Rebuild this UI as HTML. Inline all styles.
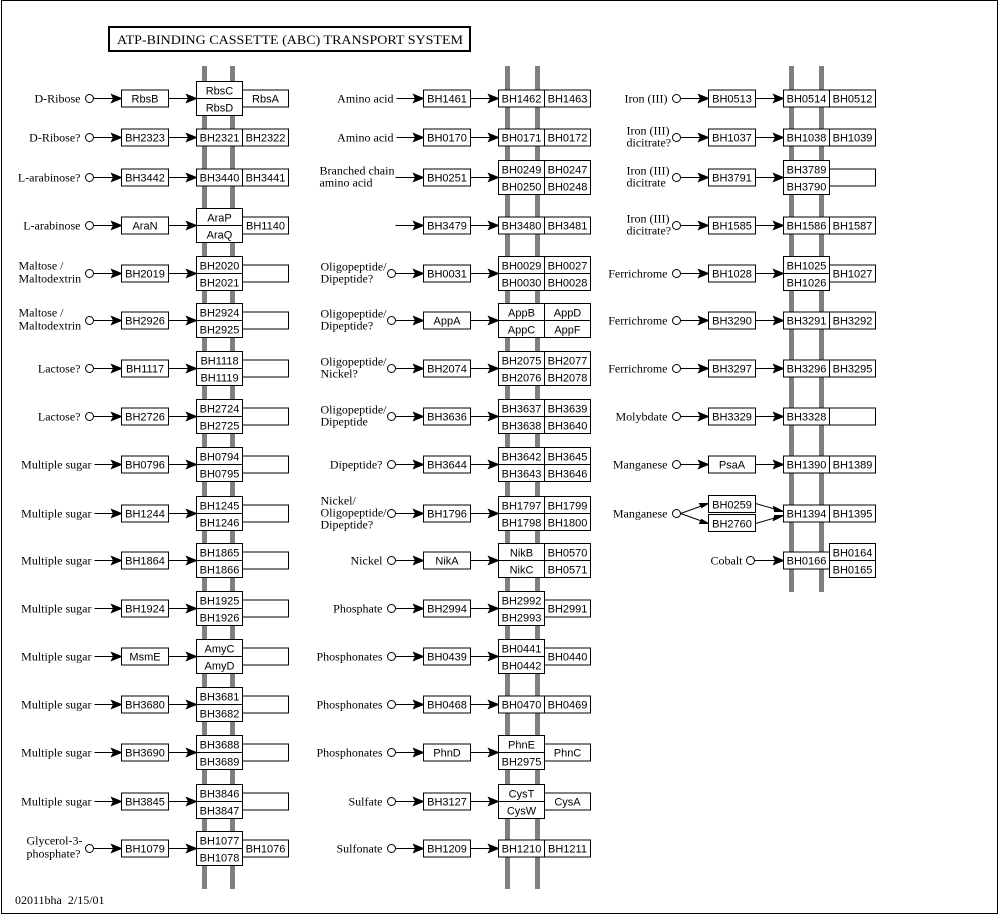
<!DOCTYPE html>
<html><head><meta charset="utf-8"><style>
html,body{margin:0;padding:0;background:#fff}
svg{display:block}
rect{fill:#fff;stroke:#000;stroke-width:1}
text{font-family:"Liberation Serif",serif;font-size:12px;fill:#000}
.b text,text.b{font-family:"Liberation Sans",sans-serif;font-size:11px;text-anchor:middle}
.r{text-anchor:end}
circle{fill:#fff;stroke:#000;stroke-width:1}
path,line{stroke:#000;stroke-width:1;fill:none}
.bar{stroke:#808080;stroke-width:5}
</style></head><body>
<svg width="999" height="916" viewBox="0 0 999 916" xmlns="http://www.w3.org/2000/svg">
<defs><polygon id="a" points="0,0 -10,-4 -8,0 -10,4" style="fill:#000;stroke:#000;stroke-width:1"/></defs>
<rect x="1.5" y="0.5" width="996" height="913" style="fill:#fff;stroke:#000"/>
<rect x="109" y="27" width="361" height="24" style="stroke-width:2"/>
<text x="117" y="44" style="font-size:13px" textLength="346" lengthAdjust="spacingAndGlyphs">ATP-BINDING CASSETTE (ABC) TRANSPORT SYSTEM</text>
<text x="15" y="904">02011bha&#160;&#160;2/15/01</text>
<line class="bar" x1="204.5" y1="66" x2="204.5" y2="889"/><line class="bar" x1="232.5" y1="66" x2="232.5" y2="889"/>
<line class="bar" x1="507.5" y1="66" x2="507.5" y2="889"/><line class="bar" x1="537.5" y1="66" x2="537.5" y2="889"/>
<line class="bar" x1="791.5" y1="66" x2="791.5" y2="592"/><line class="bar" x1="821.5" y1="66" x2="821.5" y2="592"/>

<!-- COLUMN 1 -->
<g transform="translate(0.5,98.5)"><text class="r" x="80" y="4">D-Ribose</text><circle cx="89" r="4"/><path d="M93 0H121M168 0H196"/><use href="#a" x="121"/><use href="#a" x="196"/>
<g class="b"><rect x="121" y="-8.5" width="47" height="17"/><text x="144.5" y="4">RbsB</text><rect x="196" y="-17" width="46" height="17"/><rect x="196" y="0" width="46" height="17"/><rect x="242" y="-8.5" width="46" height="17"/><text x="219" y="-4">RbsC</text><text x="219" y="13">RbsD</text><text x="265" y="4">RbsA</text></g></g>
<g transform="translate(0.5,137.5)"><text class="r" x="80" y="4">D-Ribose?</text><circle cx="89" r="4"/><path d="M93 0H121M168 0H196"/><use href="#a" x="121"/><use href="#a" x="196"/>
<g class="b"><rect x="121" y="-8.5" width="47" height="17"/><text x="144.5" y="4">BH2323</text><rect x="196" y="-8.5" width="46" height="17"/><rect x="242" y="-8.5" width="46" height="17"/><text x="219" y="4">BH2321</text><text x="265" y="4">BH2322</text></g></g>
<g transform="translate(0.5,177.5)"><text class="r" x="80" y="4">L-arabinose?</text><circle cx="89" r="4"/><path d="M93 0H121M168 0H196"/><use href="#a" x="121"/><use href="#a" x="196"/>
<g class="b"><rect x="121" y="-8.5" width="47" height="17"/><text x="144.5" y="4">BH3442</text><rect x="196" y="-8.5" width="46" height="17"/><rect x="242" y="-8.5" width="46" height="17"/><text x="219" y="4">BH3440</text><text x="265" y="4">BH3441</text></g></g>
<g transform="translate(0.5,225.5)"><text class="r" x="80" y="4">L-arabinose</text><circle cx="89" r="4"/><path d="M93 0H121M168 0H196"/><use href="#a" x="121"/><use href="#a" x="196"/>
<g class="b"><rect x="121" y="-8.5" width="47" height="17"/><text x="144.5" y="4">AraN</text><rect x="196" y="-17" width="46" height="17"/><rect x="196" y="0" width="46" height="17"/><rect x="242" y="-8.5" width="46" height="17"/><text x="219" y="-4">AraP</text><text x="219" y="13">AraQ</text><text x="265" y="4">BH1140</text></g></g>
<g transform="translate(0.5,273.5)"><text x="18" y="-4">Maltose /</text><text x="18" y="9">Maltodextrin</text><circle cx="89" r="4"/><path d="M93 0H121M168 0H196"/><use href="#a" x="121"/><use href="#a" x="196"/>
<g class="b"><rect x="121" y="-8.5" width="47" height="17"/><text x="144.5" y="4">BH2019</text><rect x="196" y="-17" width="46" height="17"/><rect x="196" y="0" width="46" height="17"/><rect x="242" y="-8.5" width="46" height="17"/><text x="219" y="-4">BH2020</text><text x="219" y="13">BH2021</text></g></g>
<g transform="translate(0.5,320.5)"><text x="18" y="-4">Maltose /</text><text x="18" y="9">Maltodextrin</text><circle cx="89" r="4"/><path d="M93 0H121M168 0H196"/><use href="#a" x="121"/><use href="#a" x="196"/>
<g class="b"><rect x="121" y="-8.5" width="47" height="17"/><text x="144.5" y="4">BH2926</text><rect x="196" y="-17" width="46" height="17"/><rect x="196" y="0" width="46" height="17"/><rect x="242" y="-8.5" width="46" height="17"/><text x="219" y="-4">BH2924</text><text x="219" y="13">BH2925</text></g></g>
<g transform="translate(0.5,368.5)"><text class="r" x="80" y="4">Lactose?</text><circle cx="89" r="4"/><path d="M93 0H121M168 0H196"/><use href="#a" x="121"/><use href="#a" x="196"/>
<g class="b"><rect x="121" y="-8.5" width="47" height="17"/><text x="144.5" y="4">BH1117</text><rect x="196" y="-17" width="46" height="17"/><rect x="196" y="0" width="46" height="17"/><rect x="242" y="-8.5" width="46" height="17"/><text x="219" y="-4">BH1118</text><text x="219" y="13">BH1119</text></g></g>
<g transform="translate(0.5,416.5)"><text class="r" x="80" y="4">Lactose?</text><circle cx="89" r="4"/><path d="M93 0H121M168 0H196"/><use href="#a" x="121"/><use href="#a" x="196"/>
<g class="b"><rect x="121" y="-8.5" width="47" height="17"/><text x="144.5" y="4">BH2726</text><rect x="196" y="-17" width="46" height="17"/><rect x="196" y="0" width="46" height="17"/><rect x="242" y="-8.5" width="46" height="17"/><text x="219" y="-4">BH2724</text><text x="219" y="13">BH2725</text></g></g>
<g transform="translate(0.5,464.5)"><text class="r" x="91" y="4">Multiple sugar</text><path d="M94 0H121M168 0H196"/><use href="#a" x="121"/><use href="#a" x="196"/>
<g class="b"><rect x="121" y="-8.5" width="47" height="17"/><text x="144.5" y="4">BH0796</text><rect x="196" y="-17" width="46" height="17"/><rect x="196" y="0" width="46" height="17"/><rect x="242" y="-8.5" width="46" height="17"/><text x="219" y="-4">BH0794</text><text x="219" y="13">BH0795</text></g></g>
<g transform="translate(0.5,513.5)"><text class="r" x="91" y="4">Multiple sugar</text><path d="M94 0H121M168 0H196"/><use href="#a" x="121"/><use href="#a" x="196"/>
<g class="b"><rect x="121" y="-8.5" width="47" height="17"/><text x="144.5" y="4">BH1244</text><rect x="196" y="-17" width="46" height="17"/><rect x="196" y="0" width="46" height="17"/><rect x="242" y="-8.5" width="46" height="17"/><text x="219" y="-4">BH1245</text><text x="219" y="13">BH1246</text></g></g>
<g transform="translate(0.5,560.5)"><text class="r" x="91" y="4">Multiple sugar</text><path d="M94 0H121M168 0H196"/><use href="#a" x="121"/><use href="#a" x="196"/>
<g class="b"><rect x="121" y="-8.5" width="47" height="17"/><text x="144.5" y="4">BH1864</text><rect x="196" y="-17" width="46" height="17"/><rect x="196" y="0" width="46" height="17"/><rect x="242" y="-8.5" width="46" height="17"/><text x="219" y="-4">BH1865</text><text x="219" y="13">BH1866</text></g></g>
<g transform="translate(0.5,608.5)"><text class="r" x="91" y="4">Multiple sugar</text><path d="M94 0H121M168 0H196"/><use href="#a" x="121"/><use href="#a" x="196"/>
<g class="b"><rect x="121" y="-8.5" width="47" height="17"/><text x="144.5" y="4">BH1924</text><rect x="196" y="-17" width="46" height="17"/><rect x="196" y="0" width="46" height="17"/><rect x="242" y="-8.5" width="46" height="17"/><text x="219" y="-4">BH1925</text><text x="219" y="13">BH1926</text></g></g>
<g transform="translate(0.5,656.5)"><text class="r" x="91" y="4">Multiple sugar</text><path d="M94 0H121M168 0H196"/><use href="#a" x="121"/><use href="#a" x="196"/>
<g class="b"><rect x="121" y="-8.5" width="47" height="17"/><text x="144.5" y="4">MsmE</text><rect x="196" y="-17" width="46" height="17"/><rect x="196" y="0" width="46" height="17"/><rect x="242" y="-8.5" width="46" height="17"/><text x="219" y="-4">AmyC</text><text x="219" y="13">AmyD</text></g></g>
<g transform="translate(0.5,704.5)"><text class="r" x="91" y="4">Multiple sugar</text><path d="M94 0H121M168 0H196"/><use href="#a" x="121"/><use href="#a" x="196"/>
<g class="b"><rect x="121" y="-8.5" width="47" height="17"/><text x="144.5" y="4">BH3680</text><rect x="196" y="-17" width="46" height="17"/><rect x="196" y="0" width="46" height="17"/><rect x="242" y="-8.5" width="46" height="17"/><text x="219" y="-4">BH3681</text><text x="219" y="13">BH3682</text></g></g>
<g transform="translate(0.5,752.5)"><text class="r" x="91" y="4">Multiple sugar</text><path d="M94 0H121M168 0H196"/><use href="#a" x="121"/><use href="#a" x="196"/>
<g class="b"><rect x="121" y="-8.5" width="47" height="17"/><text x="144.5" y="4">BH3690</text><rect x="196" y="-17" width="46" height="17"/><rect x="196" y="0" width="46" height="17"/><rect x="242" y="-8.5" width="46" height="17"/><text x="219" y="-4">BH3688</text><text x="219" y="13">BH3689</text></g></g>
<g transform="translate(0.5,801.5)"><text class="r" x="91" y="4">Multiple sugar</text><path d="M94 0H121M168 0H196"/><use href="#a" x="121"/><use href="#a" x="196"/>
<g class="b"><rect x="121" y="-8.5" width="47" height="17"/><text x="144.5" y="4">BH3845</text><rect x="196" y="-17" width="46" height="17"/><rect x="196" y="0" width="46" height="17"/><rect x="242" y="-8.5" width="46" height="17"/><text x="219" y="-4">BH3846</text><text x="219" y="13">BH3847</text></g></g>
<g transform="translate(0.5,848.5)"><text x="26" y="-4">Glycerol-3-</text><text x="26" y="9">phosphate?</text><circle cx="89" r="4"/><path d="M93 0H121M168 0H196"/><use href="#a" x="121"/><use href="#a" x="196"/>
<g class="b"><rect x="121" y="-8.5" width="47" height="17"/><text x="144.5" y="4">BH1079</text><rect x="196" y="-17" width="46" height="17"/><rect x="196" y="0" width="46" height="17"/><rect x="242" y="-8.5" width="46" height="17"/><text x="219" y="-4">BH1077</text><text x="219" y="13">BH1078</text><text x="265" y="4">BH1076</text></g></g>

<!-- COLUMN 2 -->
<g transform="translate(302.5,98.5)"><text class="r" x="91" y="4">Amino acid</text><path d="M94 0H121M168 0H196"/><use href="#a" x="121"/><use href="#a" x="196"/>
<g class="b"><rect x="121" y="-8.5" width="47" height="17"/><text x="144.5" y="4">BH1461</text><rect x="196" y="-8.5" width="46" height="17"/><rect x="242" y="-8.5" width="46" height="17"/><text x="219" y="4">BH1462</text><text x="265" y="4">BH1463</text></g></g>
<g transform="translate(302.5,137.5)"><text class="r" x="91" y="4">Amino acid</text><path d="M94 0H121M168 0H196"/><use href="#a" x="121"/><use href="#a" x="196"/>
<g class="b"><rect x="121" y="-8.5" width="47" height="17"/><text x="144.5" y="4">BH0170</text><rect x="196" y="-8.5" width="46" height="17"/><rect x="242" y="-8.5" width="46" height="17"/><text x="219" y="4">BH0171</text><text x="265" y="4">BH0172</text></g></g>
<g transform="translate(302.5,177.5)"><text x="17" y="-3">Branched chain</text><text x="17" y="9">amino acid</text><path d="M93 0H121M168 0H196"/><use href="#a" x="121"/><use href="#a" x="196"/>
<g class="b"><rect x="121" y="-8.5" width="47" height="17"/><text x="144.5" y="4">BH0251</text><rect x="196" y="-17" width="46" height="17"/><rect x="196" y="0" width="46" height="17"/><rect x="242" y="-17" width="46" height="17"/><rect x="242" y="0" width="46" height="17"/><text x="219" y="-4">BH0249</text><text x="219" y="13">BH0250</text><text x="265" y="-4">BH0247</text><text x="265" y="13">BH0248</text></g></g>
<g transform="translate(302.5,225.5)"><path d="M93 0H121M168 0H196"/><use href="#a" x="121"/><use href="#a" x="196"/>
<g class="b"><rect x="121" y="-8.5" width="47" height="17"/><text x="144.5" y="4">BH3479</text><rect x="196" y="-8.5" width="46" height="17"/><rect x="242" y="-8.5" width="46" height="17"/><text x="219" y="4">BH3480</text><text x="265" y="4">BH3481</text></g></g>
<g transform="translate(302.5,273.5)"><text x="18" y="-3">Oligopeptide/</text><text x="18" y="9">Dipeptide?</text><circle cx="89" r="4"/><path d="M93 0H121M168 0H196"/><use href="#a" x="121"/><use href="#a" x="196"/>
<g class="b"><rect x="121" y="-8.5" width="47" height="17"/><text x="144.5" y="4">BH0031</text><rect x="196" y="-17" width="46" height="17"/><rect x="196" y="0" width="46" height="17"/><rect x="242" y="-17" width="46" height="17"/><rect x="242" y="0" width="46" height="17"/><text x="219" y="-4">BH0029</text><text x="219" y="13">BH0030</text><text x="265" y="-4">BH0027</text><text x="265" y="13">BH0028</text></g></g>
<g transform="translate(302.5,320.5)"><text x="18" y="-3">Oligopeptide/</text><text x="18" y="9">Dipeptide?</text><circle cx="89" r="4"/><path d="M93 0H121M168 0H196"/><use href="#a" x="121"/><use href="#a" x="196"/>
<g class="b"><rect x="121" y="-8.5" width="47" height="17"/><text x="144.5" y="4">AppA</text><rect x="196" y="-17" width="46" height="17"/><rect x="196" y="0" width="46" height="17"/><rect x="242" y="-17" width="46" height="17"/><rect x="242" y="0" width="46" height="17"/><text x="219" y="-4">AppB</text><text x="219" y="13">AppC</text><text x="265" y="-4">AppD</text><text x="265" y="13">AppF</text></g></g>
<g transform="translate(302.5,368.5)"><text x="18" y="-3">Oligopeptide/</text><text x="18" y="9">Nickel?</text><circle cx="89" r="4"/><path d="M93 0H121M168 0H196"/><use href="#a" x="121"/><use href="#a" x="196"/>
<g class="b"><rect x="121" y="-8.5" width="47" height="17"/><text x="144.5" y="4">BH2074</text><rect x="196" y="-17" width="46" height="17"/><rect x="196" y="0" width="46" height="17"/><rect x="242" y="-17" width="46" height="17"/><rect x="242" y="0" width="46" height="17"/><text x="219" y="-4">BH2075</text><text x="219" y="13">BH2076</text><text x="265" y="-4">BH2077</text><text x="265" y="13">BH2078</text></g></g>
<g transform="translate(302.5,416.5)"><text x="18" y="-3">Oligopeptide/</text><text x="18" y="9">Dipeptide</text><circle cx="89" r="4"/><path d="M93 0H121M168 0H196"/><use href="#a" x="121"/><use href="#a" x="196"/>
<g class="b"><rect x="121" y="-8.5" width="47" height="17"/><text x="144.5" y="4">BH3636</text><rect x="196" y="-17" width="46" height="17"/><rect x="196" y="0" width="46" height="17"/><rect x="242" y="-17" width="46" height="17"/><rect x="242" y="0" width="46" height="17"/><text x="219" y="-4">BH3637</text><text x="219" y="13">BH3638</text><text x="265" y="-4">BH3639</text><text x="265" y="13">BH3640</text></g></g>
<g transform="translate(302.5,464.5)"><text class="r" x="80" y="4">Dipeptide?</text><circle cx="89" r="4"/><path d="M93 0H121M168 0H196"/><use href="#a" x="121"/><use href="#a" x="196"/>
<g class="b"><rect x="121" y="-8.5" width="47" height="17"/><text x="144.5" y="4">BH3644</text><rect x="196" y="-17" width="46" height="17"/><rect x="196" y="0" width="46" height="17"/><rect x="242" y="-17" width="46" height="17"/><rect x="242" y="0" width="46" height="17"/><text x="219" y="-4">BH3642</text><text x="219" y="13">BH3643</text><text x="265" y="-4">BH3645</text><text x="265" y="13">BH3646</text></g></g>
<g transform="translate(302.5,513.5)"><text x="18" y="-9">Nickel/</text><text x="18" y="3">Oligopeptide/</text><text x="18" y="15">Dipeptide?</text><circle cx="89" r="4"/><path d="M93 0H121M168 0H196"/><use href="#a" x="121"/><use href="#a" x="196"/>
<g class="b"><rect x="121" y="-8.5" width="47" height="17"/><text x="144.5" y="4">BH1796</text><rect x="196" y="-17" width="46" height="17"/><rect x="196" y="0" width="46" height="17"/><rect x="242" y="-17" width="46" height="17"/><rect x="242" y="0" width="46" height="17"/><text x="219" y="-4">BH1797</text><text x="219" y="13">BH1798</text><text x="265" y="-4">BH1799</text><text x="265" y="13">BH1800</text></g></g>
<g transform="translate(302.5,560.5)"><text class="r" x="80" y="4">Nickel</text><circle cx="89" r="4"/><path d="M93 0H121M168 0H196"/><use href="#a" x="121"/><use href="#a" x="196"/>
<g class="b"><rect x="121" y="-8.5" width="47" height="17"/><text x="144.5" y="4">NikA</text><rect x="196" y="-17" width="46" height="17"/><rect x="196" y="0" width="46" height="17"/><rect x="242" y="-17" width="46" height="17"/><rect x="242" y="0" width="46" height="17"/><text x="219" y="-4">NikB</text><text x="219" y="13">NikC</text><text x="265" y="-4">BH0570</text><text x="265" y="13">BH0571</text></g></g>
<g transform="translate(302.5,608.5)"><text class="r" x="80" y="4">Phosphate</text><circle cx="89" r="4"/><path d="M93 0H121M168 0H196"/><use href="#a" x="121"/><use href="#a" x="196"/>
<g class="b"><rect x="121" y="-8.5" width="47" height="17"/><text x="144.5" y="4">BH2994</text><rect x="196" y="-17" width="46" height="17"/><rect x="196" y="0" width="46" height="17"/><rect x="242" y="-8.5" width="46" height="17"/><text x="219" y="-4">BH2992</text><text x="219" y="13">BH2993</text><text x="265" y="4">BH2991</text></g></g>
<g transform="translate(302.5,656.5)"><text class="r" x="80" y="4">Phosphonates</text><circle cx="89" r="4"/><path d="M93 0H121M168 0H196"/><use href="#a" x="121"/><use href="#a" x="196"/>
<g class="b"><rect x="121" y="-8.5" width="47" height="17"/><text x="144.5" y="4">BH0439</text><rect x="196" y="-17" width="46" height="17"/><rect x="196" y="0" width="46" height="17"/><rect x="242" y="-8.5" width="46" height="17"/><text x="219" y="-4">BH0441</text><text x="219" y="13">BH0442</text><text x="265" y="4">BH0440</text></g></g>
<g transform="translate(302.5,704.5)"><text class="r" x="80" y="4">Phosphonates</text><circle cx="89" r="4"/><path d="M93 0H121M168 0H196"/><use href="#a" x="121"/><use href="#a" x="196"/>
<g class="b"><rect x="121" y="-8.5" width="47" height="17"/><text x="144.5" y="4">BH0468</text><rect x="196" y="-8.5" width="46" height="17"/><rect x="242" y="-8.5" width="46" height="17"/><text x="219" y="4">BH0470</text><text x="265" y="4">BH0469</text></g></g>
<g transform="translate(302.5,752.5)"><text class="r" x="80" y="4">Phosphonates</text><circle cx="89" r="4"/><path d="M93 0H121M168 0H196"/><use href="#a" x="121"/><use href="#a" x="196"/>
<g class="b"><rect x="121" y="-8.5" width="47" height="17"/><text x="144.5" y="4">PhnD</text><rect x="196" y="-17" width="46" height="17"/><rect x="196" y="0" width="46" height="17"/><rect x="242" y="-8.5" width="46" height="17"/><text x="219" y="-4">PhnE</text><text x="219" y="13">BH2975</text><text x="265" y="4">PhnC</text></g></g>
<g transform="translate(302.5,801.5)"><text class="r" x="80" y="4">Sulfate</text><circle cx="89" r="4"/><path d="M93 0H121M168 0H196"/><use href="#a" x="121"/><use href="#a" x="196"/>
<g class="b"><rect x="121" y="-8.5" width="47" height="17"/><text x="144.5" y="4">BH3127</text><rect x="196" y="-17" width="46" height="17"/><rect x="196" y="0" width="46" height="17"/><rect x="242" y="-8.5" width="46" height="17"/><text x="219" y="-4">CysT</text><text x="219" y="13">CysW</text><text x="265" y="4">CysA</text></g></g>
<g transform="translate(302.5,848.5)"><text class="r" x="80" y="4">Sulfonate</text><circle cx="89" r="4"/><path d="M93 0H121M168 0H196"/><use href="#a" x="121"/><use href="#a" x="196"/>
<g class="b"><rect x="121" y="-8.5" width="47" height="17"/><text x="144.5" y="4">BH1209</text><rect x="196" y="-8.5" width="46" height="17"/><rect x="242" y="-8.5" width="46" height="17"/><text x="219" y="4">BH1210</text><text x="265" y="4">BH1211</text></g></g>

<!-- COLUMN 3 -->
<g transform="translate(587.5,98.5)"><text class="r" x="80" y="4">Iron (III)</text><circle cx="89" r="4"/><path d="M93 0H121M168 0H196"/><use href="#a" x="121"/><use href="#a" x="196"/>
<g class="b"><rect x="121" y="-8.5" width="47" height="17"/><text x="144.5" y="4">BH0513</text><rect x="196" y="-8.5" width="46" height="17"/><rect x="242" y="-8.5" width="46" height="17"/><text x="219" y="4">BH0514</text><text x="265" y="4">BH0512</text></g></g>
<g transform="translate(587.5,137.5)"><text x="39" y="-3">Iron (III)</text><text x="39" y="9">dicitrate?</text><circle cx="89" r="4"/><path d="M93 0H121M168 0H196"/><use href="#a" x="121"/><use href="#a" x="196"/>
<g class="b"><rect x="121" y="-8.5" width="47" height="17"/><text x="144.5" y="4">BH1037</text><rect x="196" y="-8.5" width="46" height="17"/><rect x="242" y="-8.5" width="46" height="17"/><text x="219" y="4">BH1038</text><text x="265" y="4">BH1039</text></g></g>
<g transform="translate(587.5,177.5)"><text x="39" y="-3">Iron (III)</text><text x="39" y="9">dicitrate</text><circle cx="89" r="4"/><path d="M93 0H121M168 0H196"/><use href="#a" x="121"/><use href="#a" x="196"/>
<g class="b"><rect x="121" y="-8.5" width="47" height="17"/><text x="144.5" y="4">BH3791</text><rect x="196" y="-17" width="46" height="17"/><rect x="196" y="0" width="46" height="17"/><rect x="242" y="-8.5" width="46" height="17"/><text x="219" y="-4">BH3789</text><text x="219" y="13">BH3790</text></g></g>
<g transform="translate(587.5,225.5)"><text x="39" y="-3">Iron (III)</text><text x="39" y="9">dicitrate?</text><circle cx="89" r="4"/><path d="M93 0H121M168 0H196"/><use href="#a" x="121"/><use href="#a" x="196"/>
<g class="b"><rect x="121" y="-8.5" width="47" height="17"/><text x="144.5" y="4">BH1585</text><rect x="196" y="-8.5" width="46" height="17"/><rect x="242" y="-8.5" width="46" height="17"/><text x="219" y="4">BH1586</text><text x="265" y="4">BH1587</text></g></g>
<g transform="translate(587.5,273.5)"><text class="r" x="80" y="4">Ferrichrome</text><circle cx="89" r="4"/><path d="M93 0H121M168 0H196"/><use href="#a" x="121"/><use href="#a" x="196"/>
<g class="b"><rect x="121" y="-8.5" width="47" height="17"/><text x="144.5" y="4">BH1028</text><rect x="196" y="-17" width="46" height="17"/><rect x="196" y="0" width="46" height="17"/><rect x="242" y="-8.5" width="46" height="17"/><text x="219" y="-4">BH1025</text><text x="219" y="13">BH1026</text><text x="265" y="4">BH1027</text></g></g>
<g transform="translate(587.5,320.5)"><text class="r" x="80" y="4">Ferrichrome</text><circle cx="89" r="4"/><path d="M93 0H121M168 0H196"/><use href="#a" x="121"/><use href="#a" x="196"/>
<g class="b"><rect x="121" y="-8.5" width="47" height="17"/><text x="144.5" y="4">BH3290</text><rect x="196" y="-8.5" width="46" height="17"/><rect x="242" y="-8.5" width="46" height="17"/><text x="219" y="4">BH3291</text><text x="265" y="4">BH3292</text></g></g>
<g transform="translate(587.5,368.5)"><text class="r" x="80" y="4">Ferrichrome</text><circle cx="89" r="4"/><path d="M93 0H121M168 0H196"/><use href="#a" x="121"/><use href="#a" x="196"/>
<g class="b"><rect x="121" y="-8.5" width="47" height="17"/><text x="144.5" y="4">BH3297</text><rect x="196" y="-8.5" width="46" height="17"/><rect x="242" y="-8.5" width="46" height="17"/><text x="219" y="4">BH3296</text><text x="265" y="4">BH3295</text></g></g>
<g transform="translate(587.5,416.5)"><text class="r" x="80" y="4">Molybdate</text><circle cx="89" r="4"/><path d="M93 0H121M168 0H196"/><use href="#a" x="121"/><use href="#a" x="196"/>
<g class="b"><rect x="121" y="-8.5" width="47" height="17"/><text x="144.5" y="4">BH3329</text><rect x="196" y="-8.5" width="46" height="17"/><rect x="242" y="-8.5" width="46" height="17"/><text x="219" y="4">BH3328</text></g></g>
<g transform="translate(587.5,464.5)"><text class="r" x="80" y="4">Manganese</text><circle cx="89" r="4"/><path d="M93 0H121M168 0H196"/><use href="#a" x="121"/><use href="#a" x="196"/>
<g class="b"><rect x="121" y="-8.5" width="47" height="17"/><text x="144.5" y="4">PsaA</text><rect x="196" y="-8.5" width="46" height="17"/><rect x="242" y="-8.5" width="46" height="17"/><text x="219" y="4">BH1390</text><text x="265" y="4">BH1389</text></g></g>
<g transform="translate(587.5,513.5)"><text class="r" x="80" y="4">Manganese</text><circle cx="89" r="4"/>
<path d="M93 0L121 -10M93 0L121 10M168 -10L196 -2M168 10L196 2"/>
<polygon points="121,-10 112,-10 114,-6" style="fill:#000;stroke:#000"/><polygon points="121,10 112,10 114,6" style="fill:#000;stroke:#000"/>
<polygon points="196,-2 186,-7 187,-2" style="fill:#000;stroke:#000"/><polygon points="196,2 186,7 187,2" style="fill:#000;stroke:#000"/>
<g class="b"><rect x="121" y="-18" width="47" height="17"/><text x="144.5" y="-5">BH0259</text><rect x="121" y="1" width="47" height="17"/><text x="144.5" y="14">BH2760</text>
<rect x="196" y="-8.5" width="46" height="17"/><rect x="242" y="-8.5" width="46" height="17"/><text x="219" y="4">BH1394</text><text x="265" y="4">BH1395</text></g></g>
<g transform="translate(587.5,560.5)"><text class="r" x="155" y="4">Cobalt</text><circle cx="163" r="4"/><path d="M167 0H196"/><use href="#a" x="196"/>
<g class="b"><rect x="196" y="-8.5" width="46" height="17"/><rect x="242" y="-17" width="46" height="17"/><rect x="242" y="0" width="46" height="17"/><text x="219" y="4">BH0166</text><text x="265" y="-4">BH0164</text><text x="265" y="13">BH0165</text></g></g>
</svg>
</body></html>
